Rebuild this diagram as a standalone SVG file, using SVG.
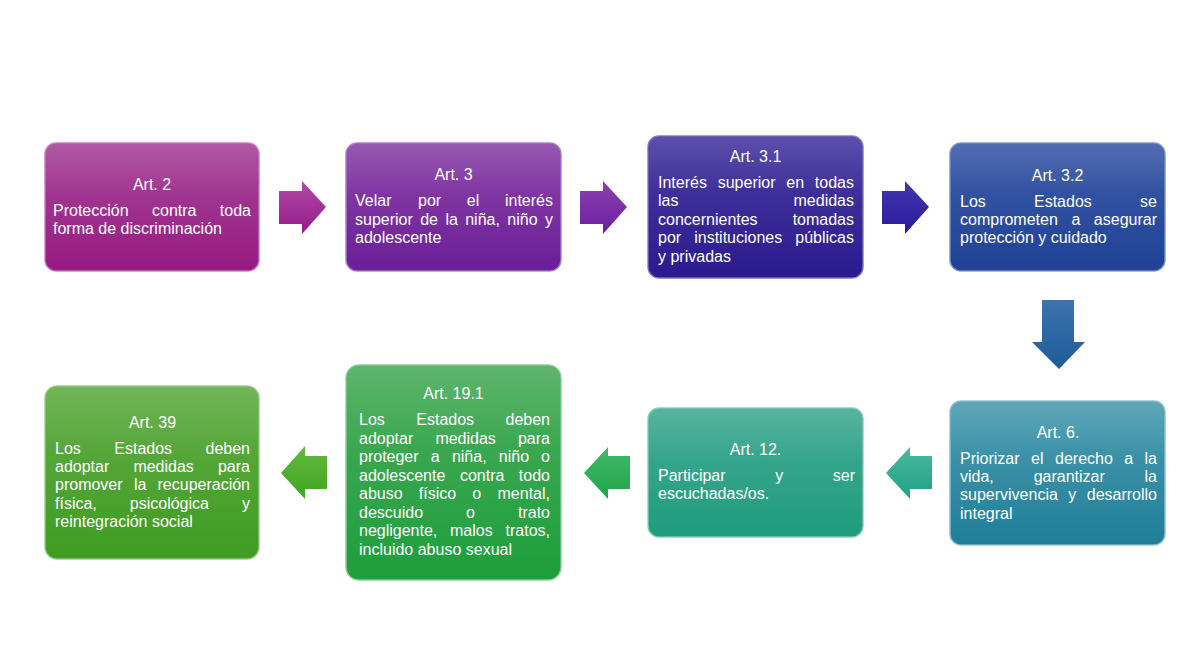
<svg xmlns="http://www.w3.org/2000/svg" width="1200" height="650" viewBox="0 0 1200 650">
<defs>
<linearGradient id="g1" x1="0" y1="0" x2="0" y2="1"><stop offset="0" stop-color="#a8479a"/><stop offset="1" stop-color="#951a82"/></linearGradient>
<linearGradient id="g2" x1="0" y1="0" x2="0" y2="1"><stop offset="0" stop-color="#8d46a8"/><stop offset="1" stop-color="#6a1e98"/></linearGradient>
<linearGradient id="g3" x1="0" y1="0" x2="0" y2="1"><stop offset="0" stop-color="#4b3ca2"/><stop offset="1" stop-color="#2b1a8e"/></linearGradient>
<linearGradient id="g4" x1="0" y1="0" x2="0" y2="1"><stop offset="0" stop-color="#3e5da8"/><stop offset="1" stop-color="#1f4196"/></linearGradient>
<linearGradient id="g5" x1="0" y1="0" x2="0" y2="1"><stop offset="0" stop-color="#4d9db0"/><stop offset="1" stop-color="#1f7e99"/></linearGradient>
<linearGradient id="g6" x1="0" y1="0" x2="0" y2="1"><stop offset="0" stop-color="#45ab94"/><stop offset="1" stop-color="#1e9c7c"/></linearGradient>
<linearGradient id="g7" x1="0" y1="0" x2="0" y2="1"><stop offset="0" stop-color="#4cad5c"/><stop offset="1" stop-color="#1d9e3c"/></linearGradient>
<linearGradient id="g8" x1="0" y1="0" x2="0" y2="1"><stop offset="0" stop-color="#62ad46"/><stop offset="1" stop-color="#3f9c22"/></linearGradient>
<linearGradient id="gloss" x1="0" y1="0" x2="0" y2="1"><stop offset="0" stop-color="#ffffff" stop-opacity="0.1"/><stop offset="0.4" stop-color="#ffffff" stop-opacity="0"/></linearGradient>
<linearGradient id="a1" x1="0" y1="0" x2="0" y2="1"><stop offset="0" stop-color="#b04aa6"/><stop offset="1" stop-color="#951b8a"/></linearGradient>
<linearGradient id="a2" x1="0" y1="0" x2="0" y2="1"><stop offset="0" stop-color="#8a40b0"/><stop offset="1" stop-color="#6d1f9e"/></linearGradient>
<linearGradient id="a3" x1="0" y1="0" x2="0" y2="1"><stop offset="0" stop-color="#4136b0"/><stop offset="1" stop-color="#2a1a9a"/></linearGradient>
<linearGradient id="a4" x1="0" y1="0" x2="0" y2="1"><stop offset="0" stop-color="#3d74ae"/><stop offset="1" stop-color="#1d5c99"/></linearGradient>
<linearGradient id="a5" x1="0" y1="0" x2="0" y2="1"><stop offset="0" stop-color="#4ab8a0"/><stop offset="1" stop-color="#1fa283"/></linearGradient>
<linearGradient id="a6" x1="0" y1="0" x2="0" y2="1"><stop offset="0" stop-color="#44b86a"/><stop offset="1" stop-color="#1ea646"/></linearGradient>
<linearGradient id="a7" x1="0" y1="0" x2="0" y2="1"><stop offset="0" stop-color="#64b840"/><stop offset="1" stop-color="#3fa61e"/></linearGradient>
</defs>
<style>
.box{stroke-width:1.5;stroke-opacity:0.9}
.gl{fill:url(#gloss)}
text{font-family:"Liberation Sans",Arial,sans-serif;font-size:16px;fill:#ffffff}
.c{text-anchor:middle}
.e{text-anchor:end}
</style>
<rect width="1200" height="650" fill="#ffffff"/>

<g id="connectors">
<polygon points="279,191 302,191 302,181 326,207 302,234 302,224 279,224" fill="url(#a1)"/>
<polygon points="580,191 603,191 603,181 627,207 603,234 603,224 580,224" fill="url(#a2)"/>
<polygon points="882,191 905,191 905,181 929,207 905,234 905,224 882,224" fill="url(#a3)"/>
<polygon points="1042,300 1074,300 1074,342 1085,342 1059,369 1032,342 1042,342" fill="url(#a4)"/>
<polygon points="932,456 910,456 910,447 886,473 910,499 910,489 932,489" fill="url(#a5)"/>
<polygon points="630,456 608,456 608,447 584,473 608,499 608,489 630,489" fill="url(#a6)"/>
<polygon points="327,456 305,456 305,446 281,473 305,499 305,489 327,489" fill="url(#a7)"/>
</g>

<g id="node-art2">
<rect class="box" x="45" y="143" width="214" height="128" rx="11" fill="url(#g1)" stroke="#c77abb"/>
<rect class="gl" x="46" y="144" width="212" height="126" rx="10"/>
<text class="c" x="152" y="190">Art. 2</text>
<text x="53" y="216">Protección</text><text x="152" y="216">contra</text><text class="e" x="251" y="216">toda</text>
<text x="53" y="234">forma de discriminación</text>
</g>

<g id="node-art3">
<rect class="box" x="346" y="143" width="215" height="128" rx="11" fill="url(#g2)" stroke="#a97ec6"/>
<rect class="gl" x="347" y="144" width="213" height="126" rx="10"/>
<text class="c" x="453.5" y="180">Art. 3</text>
<text x="355" y="206">Velar</text><text x="418" y="206">por</text><text x="466.8" y="206">el</text><text class="e" x="553" y="206">interés</text>
<text x="355" y="224.5">superior</text><text x="420.2" y="224.5">de</text><text x="445.4" y="224.5">la</text><text x="465.2" y="224.5">niña,</text><text x="507.3" y="224.5">niño</text><text class="e" x="553" y="224.5">y</text>
<text x="355" y="243">adolescente</text>
</g>

<g id="node-art3-1">
<rect class="box" x="648" y="136" width="215" height="142" rx="11" fill="url(#g3)" stroke="#7d72c0"/>
<rect class="gl" x="649" y="137" width="213" height="140" rx="10"/>
<text class="c" x="755.5" y="162">Art. 3.1</text>
<text x="658" y="187.5">Interés</text><text x="717.7" y="187.5">superior</text><text x="786.3" y="187.5">en</text><text class="e" x="854" y="187.5">todas</text>
<text x="658" y="206">las</text><text class="e" x="854" y="206">medidas</text>
<text x="658" y="224.5">concernientes</text><text class="e" x="854" y="224.5">tomadas</text>
<text x="658" y="243">por</text><text x="694.2" y="243">instituciones</text><text class="e" x="854" y="243">públicas</text>
<text x="658" y="261.5">y privadas</text>
</g>

<g id="node-art3-2">
<rect class="box" x="950" y="143" width="215" height="128" rx="11" fill="url(#g4)" stroke="#7b92c7"/>
<rect class="gl" x="951" y="144" width="213" height="126" rx="10"/>
<text class="c" x="1057.5" y="181">Art. 3.2</text>
<text x="960" y="207">Los</text><text x="1034" y="207">Estados</text><text class="e" x="1157" y="207">se</text>
<text x="960" y="225">comprometen</text><text x="1071.4" y="225">a</text><text class="e" x="1157" y="225">asegurar</text>
<text x="960" y="243">protección y cuidado</text>
</g>

<g id="node-art6">
<rect class="box" x="950" y="401" width="215" height="144" rx="11" fill="url(#g5)" stroke="#8cc2d0"/>
<rect class="gl" x="951" y="402" width="213" height="142" rx="10"/>
<text class="c" x="1058" y="438">Art. 6.</text>
<text x="960" y="463.5">Priorizar</text><text x="1031.1" y="463.5">el</text><text x="1055" y="463.5">derecho</text><text x="1124.3" y="463.5">a</text><text class="e" x="1157" y="463.5">la</text>
<text x="960" y="482">vida,</text><text x="1033.7" y="482">garantizar</text><text class="e" x="1157" y="482">la</text>
<text x="960" y="500.3">supervivencia</text><text x="1068.3" y="500.3">y</text><text class="e" x="1157" y="500.3">desarrollo</text>
<text x="960" y="518.7">integral</text>
</g>

<g id="node-art12">
<rect class="box" x="648" y="408" width="215" height="129" rx="11" fill="url(#g6)" stroke="#85cbb8"/>
<rect class="gl" x="649" y="409" width="213" height="127" rx="10"/>
<text class="c" x="755.5" y="455">Art. 12.</text>
<text x="658" y="481">Participar</text><text x="775.2" y="481">y</text><text class="e" x="855" y="481">ser</text>
<text x="658" y="499">escuchadas/os.</text>
</g>

<g id="node-art19-1">
<rect class="box" x="346" y="365" width="215" height="215" rx="13" fill="url(#g7)" stroke="#8ccd96"/>
<rect class="gl" x="347" y="366" width="213" height="213" rx="12"/>
<text class="c" x="453.5" y="399">Art. 19.1</text>
<text x="359" y="425">Los</text><text x="416.3" y="425">Estados</text><text class="e" x="550" y="425">deben</text>
<text x="359" y="443.6">adoptar</text><text x="435.4" y="443.6">medidas</text><text class="e" x="550" y="443.6">para</text>
<text x="359" y="462.1">proteger</text><text x="430.8" y="462.1">a</text><text x="451.9" y="462.1">niña,</text><text x="498.8" y="462.1">niño</text><text class="e" x="550" y="462.1">o</text>
<text x="359" y="480.7">adolescente</text><text x="459.9" y="480.7">contra</text><text class="e" x="550" y="480.7">todo</text>
<text x="359" y="499.3">abuso</text><text x="418.8" y="499.3">físico</text><text x="472.3" y="499.3">o</text><text class="e" x="550" y="499.3">mental,</text>
<text x="359" y="517.9">descuido</text><text x="466" y="517.9">o</text><text class="e" x="550" y="517.9">trato</text>
<text x="359" y="536.4">negligente,</text><text x="450" y="536.4">malos</text><text class="e" x="550" y="536.4">tratos,</text>
<text x="359" y="555">incluido abuso sexual</text>
</g>

<g id="node-art39">
<rect class="box" x="45" y="386" width="214" height="173" rx="12" fill="url(#g8)" stroke="#97cc82"/>
<rect class="gl" x="46" y="387" width="212" height="171" rx="11"/>
<text class="c" x="152.5" y="428">Art. 39</text>
<text x="55" y="454">Los</text><text x="114.3" y="454">Estados</text><text class="e" x="250" y="454">deben</text>
<text x="55" y="472.2">adoptar</text><text x="133.4" y="472.2">medidas</text><text class="e" x="250" y="472.2">para</text>
<text x="55" y="490.4">promover</text><text x="133.9" y="490.4">la</text><text class="e" x="250" y="490.4">recuperación</text>
<text x="55" y="508.6">física,</text><text x="129.8" y="508.6">psicológica</text><text class="e" x="250" y="508.6">y</text>
<text x="55" y="526.8">reintegración social</text>
</g>
</svg>
